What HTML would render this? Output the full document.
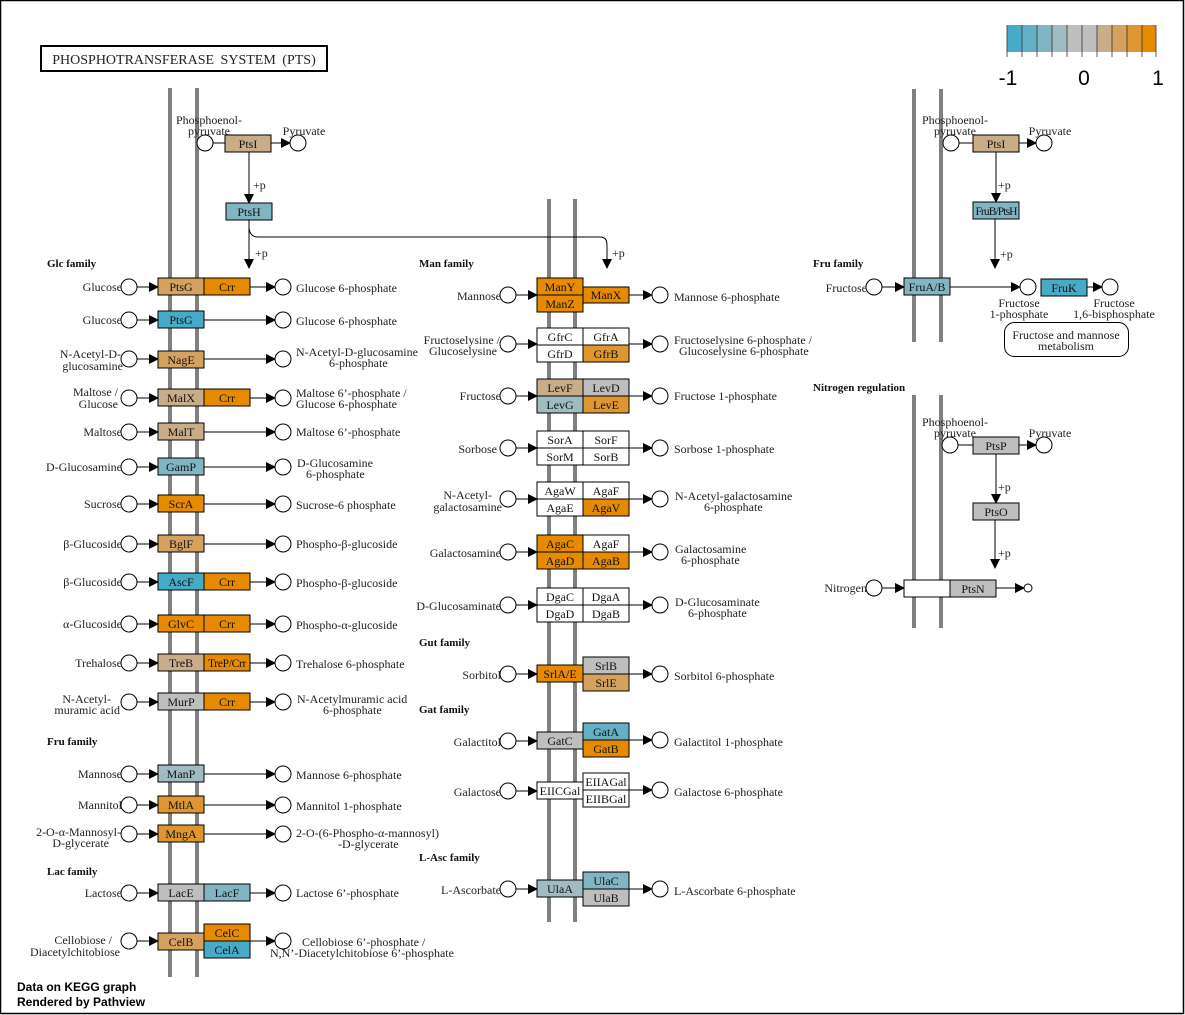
<!DOCTYPE html>
<html><head><meta charset="utf-8"><style>
body{margin:0;background:#fff}
svg{display:block}
text{font-family:"Liberation Serif",serif;font-size:12px;fill:#222}
.g{font-size:12px;text-anchor:middle;fill:#111}
.e{text-anchor:end}
.f{font-weight:bold;font-size:11px;fill:#111}
.m{stroke:#808080;stroke-width:4}
.b{stroke:#000;stroke-width:1}
.c{fill:#fff;stroke:#000;stroke-width:1}
.l{stroke:#000;stroke-width:1;fill:none}
</style></head><body>
<svg width="1185" height="1015" viewBox="0 0 1185 1015" xmlns="http://www.w3.org/2000/svg">
<defs><marker id="a" markerWidth="10" markerHeight="10" refX="9" refY="5" orient="auto" markerUnits="userSpaceOnUse"><path d="M0,0 L10,5 L0,10 z" fill="#000"/></marker></defs>
<rect x="0.5" y="0.5" width="1183" height="1013" fill="#fff" stroke="#000" stroke-width="1.5"/>
<rect x="41" y="46" width="286" height="25" fill="#fff" stroke="#000" stroke-width="2"/>
<text x="184" y="64" style="font-size:14px;text-anchor:middle;word-spacing:3px">PHOSPHOTRANSFERASE SYSTEM (PTS)</text>
<g>
<rect x="1007" y="25" width="15" height="27" fill="#47ABC8"/><rect x="1022" y="25" width="15" height="27" fill="#63B0C6"/><rect x="1037" y="25" width="15" height="27" fill="#82B5C4"/><rect x="1052" y="25" width="15" height="27" fill="#A0BCC2"/><rect x="1067" y="25" width="15" height="27" fill="#BEBEBE"/><rect x="1082" y="25" width="15" height="27" fill="#BEBEBE"/><rect x="1097" y="25" width="15" height="27" fill="#C9AD89"/><rect x="1112" y="25" width="15" height="27" fill="#D4A25E"/><rect x="1127" y="25" width="15" height="27" fill="#DD9630"/><rect x="1142" y="25" width="14" height="27" fill="#E68A00"/>
<path d="M1007,25V57M1022,25V57M1037,25V57M1052,25V57M1067,25V57M1082,25V57M1097,25V57M1112,25V57M1127,25V57M1142,25V57M1156,25V57" stroke="#333" stroke-width="0.8"/>
<text x="1008" y="85" style="font-family:'Liberation Sans',sans-serif;font-size:21px;text-anchor:middle;fill:#000">-1</text>
<text x="1084" y="85" style="font-family:'Liberation Sans',sans-serif;font-size:21px;text-anchor:middle;fill:#000">0</text>
<text x="1158" y="85" style="font-family:'Liberation Sans',sans-serif;font-size:21px;text-anchor:middle;fill:#000">1</text>
</g>
<path class="m" d="M170,88V977M197,88V977M549,199V922M575,199V922M914,89V342M941,89V342M914,395V628M941,395V628"/>

<line class="l" x1="213" y1="143" x2="225" y2="143"/>
<line class="l" x1="271" y1="143" x2="290" y2="143" marker-end="url(#a)"/>
<circle class="c" cx="205" cy="143" r="8"/><circle class="c" cx="298" cy="143" r="8"/>
<text x="209" y="124" style="text-anchor:middle">Phosphoenol-</text><text x="209" y="135" style="text-anchor:middle">pyruvate</text>
<text x="304" y="135" style="text-anchor:middle">Pyruvate</text>
<rect class="b" x="225" y="135" width="46" height="17" fill="#C9AD89"/><text class="g" x="248" y="148">PtsI</text>
<line class="l" x1="249" y1="152" x2="249" y2="203" marker-end="url(#a)"/><text x="253" y="189">+p</text>
<rect class="b" x="226" y="203" width="46" height="17" fill="#82B5C4"/><text class="g" x="249" y="216">PtsH</text>
<line class="l" x1="249" y1="220" x2="249" y2="268" marker-end="url(#a)"/><text x="255" y="257">+p</text>
<path class="l" d="M249,228 Q250,237 258,237 H600 Q607,237 607,245 V268" marker-end="url(#a)"/><text x="612" y="257">+p</text>

<text class="f" x="47" y="267">Glc family</text>
<text class="f" x="47" y="745">Fru family</text>
<text class="f" x="47" y="875">Lac family</text>
<text class="f" x="419" y="267">Man family</text>
<text class="f" x="419" y="646">Gut family</text>
<text class="f" x="419" y="713">Gat family</text>
<text class="f" x="419" y="861">L-Asc family</text>
<text class="f" x="813" y="267">Fru family</text>
<text class="f" x="813" y="391">Nitrogen regulation</text>

<g>
<line class="l" x1="137" y1="287" x2="158" y2="287" marker-end="url(#a)"/><line class="l" x1="137" y1="320" x2="158" y2="320" marker-end="url(#a)"/><line class="l" x1="137" y1="359" x2="158" y2="359" marker-end="url(#a)"/><line class="l" x1="137" y1="398" x2="158" y2="398" marker-end="url(#a)"/><line class="l" x1="137" y1="432" x2="158" y2="432" marker-end="url(#a)"/><line class="l" x1="137" y1="467" x2="158" y2="467" marker-end="url(#a)"/><line class="l" x1="137" y1="504" x2="158" y2="504" marker-end="url(#a)"/><line class="l" x1="137" y1="544" x2="158" y2="544" marker-end="url(#a)"/><line class="l" x1="137" y1="582" x2="158" y2="582" marker-end="url(#a)"/><line class="l" x1="137" y1="624" x2="158" y2="624" marker-end="url(#a)"/><line class="l" x1="137" y1="663" x2="158" y2="663" marker-end="url(#a)"/><line class="l" x1="137" y1="702" x2="158" y2="702" marker-end="url(#a)"/><line class="l" x1="137" y1="774" x2="158" y2="774" marker-end="url(#a)"/><line class="l" x1="137" y1="805" x2="158" y2="805" marker-end="url(#a)"/><line class="l" x1="137" y1="834" x2="158" y2="834" marker-end="url(#a)"/><line class="l" x1="137" y1="893" x2="158" y2="893" marker-end="url(#a)"/><line class="l" x1="137" y1="941" x2="158" y2="941" marker-end="url(#a)"/>
<line class="l" x1="250" y1="287" x2="275" y2="287" marker-end="url(#a)"/><line class="l" x1="204" y1="320" x2="275" y2="320" marker-end="url(#a)"/><line class="l" x1="204" y1="359" x2="275" y2="359" marker-end="url(#a)"/><line class="l" x1="250" y1="398" x2="275" y2="398" marker-end="url(#a)"/><line class="l" x1="204" y1="432" x2="275" y2="432" marker-end="url(#a)"/><line class="l" x1="204" y1="467" x2="275" y2="467" marker-end="url(#a)"/><line class="l" x1="204" y1="504" x2="275" y2="504" marker-end="url(#a)"/><line class="l" x1="204" y1="544" x2="275" y2="544" marker-end="url(#a)"/><line class="l" x1="250" y1="582" x2="275" y2="582" marker-end="url(#a)"/><line class="l" x1="250" y1="624" x2="275" y2="624" marker-end="url(#a)"/><line class="l" x1="250" y1="663" x2="275" y2="663" marker-end="url(#a)"/><line class="l" x1="250" y1="702" x2="275" y2="702" marker-end="url(#a)"/><line class="l" x1="204" y1="774" x2="275" y2="774" marker-end="url(#a)"/><line class="l" x1="204" y1="805" x2="275" y2="805" marker-end="url(#a)"/><line class="l" x1="204" y1="834" x2="275" y2="834" marker-end="url(#a)"/><line class="l" x1="250" y1="893" x2="275" y2="893" marker-end="url(#a)"/><line class="l" x1="250" y1="941" x2="275" y2="941" marker-end="url(#a)"/>
</g>
<g>
<circle class="c" cx="129" cy="287" r="8"/><circle class="c" cx="129" cy="320" r="8"/><circle class="c" cx="129" cy="359" r="8"/><circle class="c" cx="129" cy="398" r="8"/><circle class="c" cx="129" cy="432" r="8"/><circle class="c" cx="129" cy="467" r="8"/><circle class="c" cx="129" cy="504" r="8"/><circle class="c" cx="129" cy="544" r="8"/><circle class="c" cx="129" cy="582" r="8"/><circle class="c" cx="129" cy="624" r="8"/><circle class="c" cx="129" cy="663" r="8"/><circle class="c" cx="129" cy="702" r="8"/><circle class="c" cx="129" cy="774" r="8"/><circle class="c" cx="129" cy="805" r="8"/><circle class="c" cx="129" cy="834" r="8"/><circle class="c" cx="129" cy="893" r="8"/><circle class="c" cx="129" cy="941" r="8"/>
<circle class="c" cx="283" cy="287" r="8"/><circle class="c" cx="283" cy="320" r="8"/><circle class="c" cx="283" cy="359" r="8"/><circle class="c" cx="283" cy="398" r="8"/><circle class="c" cx="283" cy="432" r="8"/><circle class="c" cx="283" cy="467" r="8"/><circle class="c" cx="283" cy="504" r="8"/><circle class="c" cx="283" cy="544" r="8"/><circle class="c" cx="283" cy="582" r="8"/><circle class="c" cx="283" cy="624" r="8"/><circle class="c" cx="283" cy="663" r="8"/><circle class="c" cx="283" cy="702" r="8"/><circle class="c" cx="283" cy="774" r="8"/><circle class="c" cx="283" cy="805" r="8"/><circle class="c" cx="283" cy="834" r="8"/><circle class="c" cx="283" cy="893" r="8"/><circle class="c" cx="283" cy="941" r="8"/>
</g>
<g>
<rect class="b" x="158" y="278" width="46" height="17" fill="#D4A25E"/><text class="g" x="181" y="291">PtsG</text>
<rect class="b" x="204" y="278" width="46" height="17" fill="#E68A00"/><text class="g" x="227" y="291">Crr</text>
<rect class="b" x="158" y="311" width="46" height="17" fill="#47ABC8"/><text class="g" x="181" y="324">PtsG</text>
<rect class="b" x="158" y="351" width="46" height="17" fill="#D4A25E"/><text class="g" x="181" y="364">NagE</text>
<rect class="b" x="158" y="389" width="46" height="17" fill="#C9AD89"/><text class="g" x="181" y="402">MalX</text>
<rect class="b" x="204" y="389" width="46" height="17" fill="#E68A00"/><text class="g" x="227" y="402">Crr</text>
<rect class="b" x="158" y="423" width="46" height="17" fill="#C9AD89"/><text class="g" x="181" y="436">MalT</text>
<rect class="b" x="158" y="458" width="46" height="17" fill="#82B5C4"/><text class="g" x="181" y="471">GamP</text>
<rect class="b" x="158" y="495" width="46" height="17" fill="#E68A00"/><text class="g" x="181" y="508">ScrA</text>
<rect class="b" x="158" y="535" width="46" height="17" fill="#D4A25E"/><text class="g" x="181" y="548">BglF</text>
<rect class="b" x="158" y="573" width="46" height="17" fill="#47ABC8"/><text class="g" x="181" y="586">AscF</text>
<rect class="b" x="204" y="573" width="46" height="17" fill="#E68A00"/><text class="g" x="227" y="586">Crr</text>
<rect class="b" x="158" y="615" width="46" height="17" fill="#E68A00"/><text class="g" x="181" y="628">GlvC</text>
<rect class="b" x="204" y="615" width="46" height="17" fill="#E68A00"/><text class="g" x="227" y="628">Crr</text>
<rect class="b" x="158" y="654" width="46" height="17" fill="#C9AD89"/><text class="g" x="181" y="667">TreB</text>
<rect class="b" x="204" y="654" width="46" height="17" fill="#E68A00"/><text class="g" x="227" y="667" style="font-size:11.5px;letter-spacing:-0.3px">TreP/Crr</text>
<rect class="b" x="158" y="693" width="46" height="17" fill="#BEBEBE"/><text class="g" x="181" y="706">MurP</text>
<rect class="b" x="204" y="693" width="46" height="17" fill="#E68A00"/><text class="g" x="227" y="706">Crr</text>
<rect class="b" x="158" y="765" width="46" height="17" fill="#A0BCC2"/><text class="g" x="181" y="778">ManP</text>
<rect class="b" x="158" y="796" width="46" height="17" fill="#DD9630"/><text class="g" x="181" y="809">MtlA</text>
<rect class="b" x="158" y="825" width="46" height="17" fill="#DD9630"/><text class="g" x="181" y="838">MngA</text>
<rect class="b" x="158" y="884" width="46" height="17" fill="#BEBEBE"/><text class="g" x="181" y="897">LacE</text>
<rect class="b" x="204" y="884" width="46" height="17" fill="#82B5C4"/><text class="g" x="227" y="897">LacF</text>
<rect class="b" x="158" y="933" width="46" height="17" fill="#D4A25E"/><text class="g" x="181" y="946">CelB</text>
<rect class="b" x="204" y="924" width="46" height="17" fill="#E68A00"/><text class="g" x="227" y="937">CelC</text>
<rect class="b" x="204" y="941" width="46" height="17" fill="#47ABC8"/><text class="g" x="227" y="954">CelA</text>
</g>
<g>
<text class="e" x="122" y="291">Glucose</text><text class="e" x="122" y="324">Glucose</text>
<text class="e" x="121" y="358">N-Acetyl-D-</text><text class="e" x="123" y="370">glucosamine</text>
<text class="e" x="118" y="396">Maltose /</text><text class="e" x="118" y="408">Glucose</text>
<text class="e" x="122" y="436">Maltose</text><text class="e" x="122" y="471">D-Glucosamine</text>
<text class="e" x="122" y="508">Sucrose</text><text class="e" x="122" y="548">β-Glucoside</text>
<text class="e" x="122" y="586">β-Glucoside</text><text class="e" x="122" y="628">α-Glucoside</text>
<text class="e" x="122" y="667">Trehalose</text>
<text class="e" x="111" y="703">N-Acetyl-</text><text class="e" x="120" y="714">muramic acid</text>
<text class="e" x="122" y="778">Mannose</text><text class="e" x="122" y="809">Mannitol</text>
<text class="e" x="121" y="836">2-O-α-Mannosyl-</text><text class="e" x="109" y="847">D-glycerate</text>
<text class="e" x="122" y="897">Lactose</text>
<text class="e" x="112" y="944">Cellobiose /</text><text class="e" x="120" y="956">Diacetylchitobiose</text>
</g>
<g>
<text x="296" y="292">Glucose 6-phosphate</text><text x="296" y="325">Glucose 6-phosphate</text>
<text x="296" y="356">N-Acetyl-D-glucosamine</text><text x="329" y="367">6-phosphate</text>
<text x="296" y="397">Maltose 6’-phosphate /</text><text x="296" y="408">Glucose 6-phosphate</text>
<text x="296" y="436">Maltose 6’-phosphate</text>
<text x="297" y="467">D-Glucosamine</text><text x="306" y="478">6-phosphate</text>
<text x="296" y="509">Sucrose-6 phosphate</text><text x="296" y="548">Phospho-β-glucoside</text>
<text x="296" y="587">Phospho-β-glucoside</text><text x="296" y="629">Phospho-α-glucoside</text>
<text x="296" y="668">Trehalose 6-phosphate</text>
<text x="297" y="703">N-Acetylmuramic acid</text><text x="323" y="714">6-phosphate</text>
<text x="296" y="779">Mannose 6-phosphate</text><text x="296" y="810">Mannitol 1-phosphate</text>
<text x="296" y="837">2-O-(6-Phospho-α-mannosyl)</text><text x="338" y="848">-D-glycerate</text>
<text x="296" y="897">Lactose 6’-phosphate</text>
<text x="302" y="946">Cellobiose 6’-phosphate /</text><text x="270" y="957">N,N’-Diacetylchitobiose 6’-phosphate</text>
</g>

<g>
<line class="l" x1="516" y1="295" x2="537" y2="295" marker-end="url(#a)"/><line class="l" x1="516" y1="344" x2="537" y2="344" marker-end="url(#a)"/><line class="l" x1="516" y1="396" x2="537" y2="396" marker-end="url(#a)"/><line class="l" x1="516" y1="448" x2="537" y2="448" marker-end="url(#a)"/><line class="l" x1="516" y1="499" x2="537" y2="499" marker-end="url(#a)"/><line class="l" x1="516" y1="552" x2="537" y2="552" marker-end="url(#a)"/><line class="l" x1="516" y1="605" x2="537" y2="605" marker-end="url(#a)"/><line class="l" x1="516" y1="674" x2="537" y2="674" marker-end="url(#a)"/><line class="l" x1="516" y1="741" x2="537" y2="741" marker-end="url(#a)"/><line class="l" x1="516" y1="791" x2="537" y2="791" marker-end="url(#a)"/><line class="l" x1="516" y1="889" x2="537" y2="889" marker-end="url(#a)"/>
<line class="l" x1="629" y1="295" x2="652" y2="295" marker-end="url(#a)"/><line class="l" x1="629" y1="344" x2="652" y2="344" marker-end="url(#a)"/><line class="l" x1="629" y1="396" x2="652" y2="396" marker-end="url(#a)"/><line class="l" x1="629" y1="448" x2="652" y2="448" marker-end="url(#a)"/><line class="l" x1="629" y1="499" x2="652" y2="499" marker-end="url(#a)"/><line class="l" x1="629" y1="552" x2="652" y2="552" marker-end="url(#a)"/><line class="l" x1="629" y1="605" x2="652" y2="605" marker-end="url(#a)"/><line class="l" x1="629" y1="674" x2="652" y2="674" marker-end="url(#a)"/><line class="l" x1="629" y1="740" x2="652" y2="740" marker-end="url(#a)"/><line class="l" x1="629" y1="790" x2="652" y2="790" marker-end="url(#a)"/><line class="l" x1="629" y1="889" x2="652" y2="889" marker-end="url(#a)"/>
<circle class="c" cx="508" cy="295" r="8"/><circle class="c" cx="508" cy="344" r="8"/><circle class="c" cx="508" cy="396" r="8"/><circle class="c" cx="508" cy="448" r="8"/><circle class="c" cx="508" cy="499" r="8"/><circle class="c" cx="508" cy="552" r="8"/><circle class="c" cx="508" cy="605" r="8"/><circle class="c" cx="508" cy="674" r="8"/><circle class="c" cx="508" cy="741" r="8"/><circle class="c" cx="508" cy="791" r="8"/><circle class="c" cx="508" cy="889" r="8"/>
<circle class="c" cx="660" cy="295" r="8"/><circle class="c" cx="660" cy="344" r="8"/><circle class="c" cx="660" cy="396" r="8"/><circle class="c" cx="660" cy="448" r="8"/><circle class="c" cx="660" cy="499" r="8"/><circle class="c" cx="660" cy="552" r="8"/><circle class="c" cx="660" cy="605" r="8"/><circle class="c" cx="660" cy="674" r="8"/><circle class="c" cx="660" cy="740" r="8"/><circle class="c" cx="660" cy="790" r="8"/><circle class="c" cx="660" cy="889" r="8"/>

<rect class="b" x="537" y="278" width="46" height="17" fill="#E68A00"/><text class="g" x="560" y="291">ManY</text>
<rect class="b" x="537" y="295" width="46" height="17" fill="#E68A00"/><text class="g" x="560" y="308">ManZ</text>
<rect class="b" x="583" y="287" width="46" height="16" fill="#E68A00"/><text class="g" x="606" y="299">ManX</text>
<rect class="b" x="537" y="328" width="46" height="17" fill="#fff"/><text class="g" x="560" y="341">GfrC</text>
<rect class="b" x="583" y="328" width="46" height="17" fill="#fff"/><text class="g" x="606" y="341">GfrA</text>
<rect class="b" x="537" y="345" width="46" height="17" fill="#fff"/><text class="g" x="560" y="358">GfrD</text>
<rect class="b" x="583" y="345" width="46" height="17" fill="#DD9630"/><text class="g" x="606" y="358">GfrB</text>
<rect class="b" x="537" y="379" width="46" height="17" fill="#C9AD89"/><text class="g" x="560" y="392">LevF</text>
<rect class="b" x="583" y="379" width="46" height="17" fill="#BEBEBE"/><text class="g" x="606" y="392">LevD</text>
<rect class="b" x="537" y="396" width="46" height="17" fill="#A0BCC2"/><text class="g" x="560" y="409">LevG</text>
<rect class="b" x="583" y="396" width="46" height="17" fill="#DD9630"/><text class="g" x="606" y="409">LevE</text>
<rect class="b" x="537" y="431" width="46" height="17" fill="#fff"/><text class="g" x="560" y="444">SorA</text>
<rect class="b" x="583" y="431" width="46" height="17" fill="#fff"/><text class="g" x="606" y="444">SorF</text>
<rect class="b" x="537" y="448" width="46" height="17" fill="#fff"/><text class="g" x="560" y="461">SorM</text>
<rect class="b" x="583" y="448" width="46" height="17" fill="#fff"/><text class="g" x="606" y="461">SorB</text>
<rect class="b" x="537" y="482" width="46" height="17" fill="#fff"/><text class="g" x="560" y="495">AgaW</text>
<rect class="b" x="583" y="482" width="46" height="17" fill="#fff"/><text class="g" x="606" y="495">AgaF</text>
<rect class="b" x="537" y="499" width="46" height="17" fill="#fff"/><text class="g" x="560" y="512">AgaE</text>
<rect class="b" x="583" y="499" width="46" height="17" fill="#E68A00"/><text class="g" x="606" y="512">AgaV</text>
<rect class="b" x="537" y="535" width="46" height="17" fill="#E68A00"/><text class="g" x="560" y="548">AgaC</text>
<rect class="b" x="583" y="535" width="46" height="17" fill="#fff"/><text class="g" x="606" y="548">AgaF</text>
<rect class="b" x="537" y="552" width="46" height="17" fill="#E68A00"/><text class="g" x="560" y="565">AgaD</text>
<rect class="b" x="583" y="552" width="46" height="17" fill="#E68A00"/><text class="g" x="606" y="565">AgaB</text>
<rect class="b" x="537" y="588" width="46" height="17" fill="#fff"/><text class="g" x="560" y="601">DgaC</text>
<rect class="b" x="583" y="588" width="46" height="17" fill="#fff"/><text class="g" x="606" y="601">DgaA</text>
<rect class="b" x="537" y="605" width="46" height="17" fill="#fff"/><text class="g" x="560" y="618">DgaD</text>
<rect class="b" x="583" y="605" width="46" height="17" fill="#fff"/><text class="g" x="606" y="618">DgaB</text>
<rect class="b" x="537" y="665" width="46" height="17" fill="#E68A00"/><text class="g" x="560" y="678">SrlA/E</text>
<rect class="b" x="583" y="657" width="46" height="17" fill="#BEBEBE"/><text class="g" x="606" y="670">SrlB</text>
<rect class="b" x="583" y="674" width="46" height="17" fill="#D4A25E"/><text class="g" x="606" y="687">SrlE</text>
<rect class="b" x="537" y="732" width="46" height="17" fill="#BEBEBE"/><text class="g" x="560" y="745">GatC</text>
<rect class="b" x="583" y="723" width="46" height="17" fill="#63B0C6"/><text class="g" x="606" y="736">GatA</text>
<rect class="b" x="583" y="740" width="46" height="17" fill="#E68A00"/><text class="g" x="606" y="753">GatB</text>
<rect class="b" x="537" y="782" width="46" height="17" fill="#fff"/><text class="g" x="560" y="795">EIICGal</text>
<rect class="b" x="583" y="773" width="46" height="17" fill="#fff"/><text class="g" x="606" y="786">EIIAGal</text>
<rect class="b" x="583" y="790" width="46" height="17" fill="#fff"/><text class="g" x="606" y="803">EIIBGal</text>
<rect class="b" x="537" y="880" width="46" height="17" fill="#A0BCC2"/><text class="g" x="560" y="893">UlaA</text>
<rect class="b" x="583" y="872" width="46" height="17" fill="#82B5C4"/><text class="g" x="606" y="885">UlaC</text>
<rect class="b" x="583" y="889" width="46" height="17" fill="#BEBEBE"/><text class="g" x="606" y="902">UlaB</text>

<text class="e" x="501" y="300">Mannose</text>
<text class="e" x="500" y="344">Fructoselysine /</text><text class="e" x="497" y="355">Glucoselysine</text>
<text class="e" x="501" y="400">Fructose</text><text class="e" x="497" y="453">Sorbose</text>
<text class="e" x="492" y="499">N-Acetyl-</text><text class="e" x="502" y="511">galactosamine</text>
<text class="e" x="501" y="557">Galactosamine</text><text class="e" x="501" y="610">D-Glucosaminate</text>
<text class="e" x="501" y="679">Sorbitol</text><text class="e" x="501" y="746">Galactitol</text>
<text class="e" x="501" y="796">Galactose</text><text class="e" x="501" y="894">L-Ascorbate</text>

<text x="674" y="301">Mannose 6-phosphate</text>
<text x="674" y="344">Fructoselysine 6-phosphate /</text><text x="679" y="355">Glucoselysine 6-phosphate</text>
<text x="674" y="400">Fructose 1-phosphate</text><text x="674" y="453">Sorbose 1-phosphate</text>
<text x="675" y="500">N-Acetyl-galactosamine</text><text x="704" y="511">6-phosphate</text>
<text x="675" y="553">Galactosamine</text><text x="681" y="564">6-phosphate</text>
<text x="675" y="606">D-Glucosaminate</text><text x="688" y="617">6-phosphate</text>
<text x="674" y="680">Sorbitol 6-phosphate</text><text x="674" y="746">Galactitol 1-phosphate</text>
<text x="674" y="796">Galactose 6-phosphate</text><text x="674" y="895">L-Ascorbate 6-phosphate</text>
</g>

<g>
<line class="l" x1="959" y1="143" x2="973" y2="143"/>
<line class="l" x1="1019" y1="143" x2="1036" y2="143" marker-end="url(#a)"/>
<circle class="c" cx="951" cy="143" r="8"/><circle class="c" cx="1044" cy="143" r="8"/>
<text x="955" y="124" style="text-anchor:middle">Phosphoenol-</text><text x="955" y="135" style="text-anchor:middle">pyruvate</text>
<text x="1050" y="135" style="text-anchor:middle">Pyruvate</text>
<rect class="b" x="973" y="135" width="46" height="17" fill="#C9AD89"/><text class="g" x="996" y="148">PtsI</text>
<line class="l" x1="996" y1="152" x2="996" y2="202" marker-end="url(#a)"/><text x="998" y="189">+p</text>
<rect class="b" x="973" y="202" width="46" height="17" fill="#82B5C4"/><text class="g" x="996" y="215" style="font-size:11.5px;letter-spacing:-0.9px">FruB/PtsH</text>
<line class="l" x1="995" y1="219" x2="995" y2="268" marker-end="url(#a)"/><text x="1000" y="258">+p</text>
<line class="l" x1="882" y1="287" x2="904" y2="287" marker-end="url(#a)"/>
<line class="l" x1="950" y1="287" x2="1020" y2="287" marker-end="url(#a)"/>
<line class="l" x1="1087" y1="287" x2="1102" y2="287" marker-end="url(#a)"/>
<circle class="c" cx="874" cy="287" r="8"/><circle class="c" cx="1028" cy="287" r="8"/><circle class="c" cx="1110" cy="287" r="8"/>
<rect class="b" x="904" y="278" width="46" height="17" fill="#82B5C4"/><text class="g" x="927" y="291">FruA/B</text>
<rect class="b" x="1041" y="279" width="46" height="17" fill="#47ABC8"/><text class="g" x="1064" y="292">FruK</text>
<text class="e" x="867" y="292">Fructose</text>
<text x="1019" y="307" style="text-anchor:middle">Fructose</text><text x="1019" y="318" style="text-anchor:middle">1-phosphate</text>
<text x="1114" y="307" style="text-anchor:middle">Fructose</text><text x="1114" y="318" style="text-anchor:middle">1,6-bisphosphate</text>
<rect x="1004.5" y="322.5" width="124" height="34" rx="10" fill="#fff" stroke="#000"/>
<text x="1066" y="339" style="text-anchor:middle">Fructose and mannose</text><text x="1066" y="350" style="text-anchor:middle">metabolism</text>
</g>

<g>
<line class="l" x1="958" y1="445" x2="973" y2="445"/>
<line class="l" x1="1019" y1="445" x2="1036" y2="445" marker-end="url(#a)"/>
<circle class="c" cx="950" cy="445" r="8"/><circle class="c" cx="1044" cy="445" r="8"/>
<text x="955" y="426" style="text-anchor:middle">Phosphoenol-</text><text x="955" y="437" style="text-anchor:middle">pyruvate</text>
<text x="1050" y="437" style="text-anchor:middle">Pyruvate</text>
<rect class="b" x="973" y="437" width="46" height="17" fill="#BEBEBE"/><text class="g" x="996" y="450">PtsP</text>
<line class="l" x1="996" y1="454" x2="996" y2="503" marker-end="url(#a)"/><text x="998" y="491">+p</text>
<rect class="b" x="973" y="503" width="46" height="17" fill="#BEBEBE"/><text class="g" x="996" y="516">PtsO</text>
<line class="l" x1="995" y1="520" x2="995" y2="568" marker-end="url(#a)"/><text x="998" y="557">+p</text>
<line class="l" x1="882" y1="588" x2="904" y2="588" marker-end="url(#a)"/>
<line class="l" x1="996" y1="588" x2="1024" y2="588" marker-end="url(#a)"/>
<circle class="c" cx="874" cy="588" r="8"/><circle class="c" cx="1028" cy="588" r="4"/>
<rect class="b" x="904" y="580" width="46" height="17" fill="#fff"/>
<rect class="b" x="950" y="580" width="46" height="17" fill="#BEBEBE"/><text class="g" x="973" y="593">PtsN</text>
<text class="e" x="867" y="592">Nitrogen</text>
</g>

<text x="17" y="991" style="font-family:'Liberation Sans',sans-serif;font-weight:bold;font-size:12px;fill:#000">Data on KEGG graph</text>
<text x="17" y="1006" style="font-family:'Liberation Sans',sans-serif;font-weight:bold;font-size:12px;fill:#000">Rendered by Pathview</text>
</svg>
</body></html>
